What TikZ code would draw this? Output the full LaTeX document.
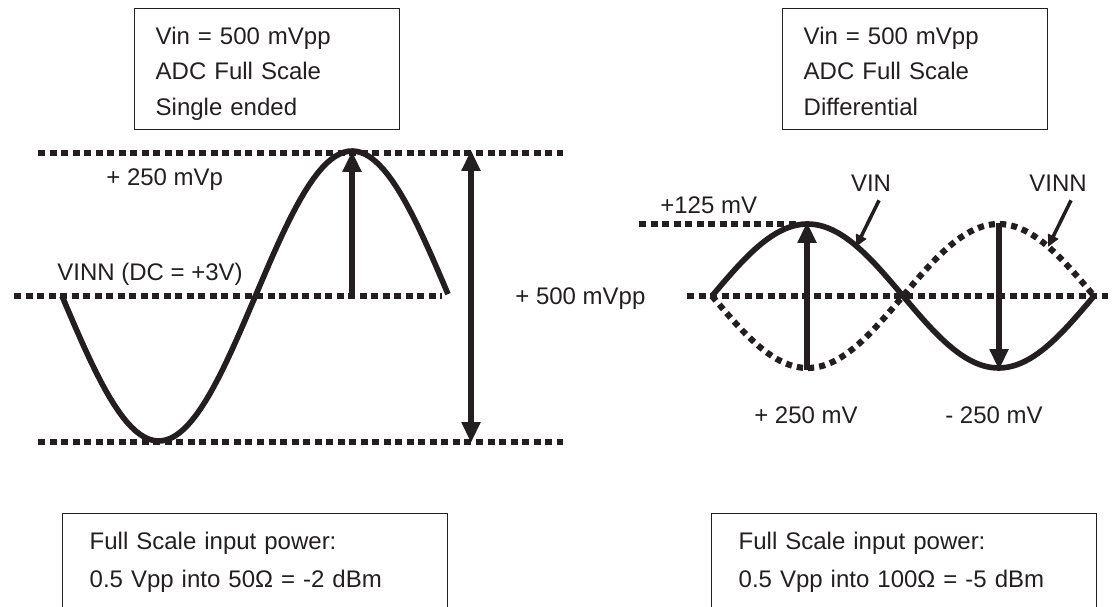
\documentclass[tikz,border=0pt]{standalone}
\usepackage{fontspec}
\setmainfont{Liberation Sans}
\usepackage{tikz}
\usetikzlibrary{
  arrows.meta
}
\definecolor{inkBlack}{HTML}{231F20}
\newcommand{\specfont}{\fontsize{13.66pt}{20.2pt}\selectfont}
\newcommand{\powerfont}{\fontsize{13.66pt}{21.6pt}\selectfont}
\newcommand{\levelfont}{\fontsize{13.66pt}{16pt}\selectfont}
\tikzset{
  infobox/.style={
    rectangle, draw=inkBlack, line width=0.8pt,
    anchor=north west, align=left,
    inner xsep=0.42cm, inner ysep=0.368cm,
    text height=0.34cm, text=inkBlack
  },
  spec box/.style={infobox,
    text width=4.46cm, text depth=1.34cm, font=\specfont},
  power box/.style={infobox,
    inner xsep=0.54cm, text width=6.62cm, text depth=2.4cm, font=\powerfont},
  level label/.style={inner sep=0pt, text=inkBlack, font=\levelfont},
  level line/.style={draw=inkBlack, line width=3.7pt,
    dash pattern=on 4pt off 2.56pt},
  wave/.style={draw=inkBlack, line width=3.2pt},
  wave inv/.style={wave, line width=3.5pt, dash pattern=on 3.5pt off 2.9pt},
  span arrow/.style={draw=inkBlack, line width=3.6pt,
    -{Triangle[length=0.42cm, width=0.36cm]}},
  pointer/.style={draw=inkBlack, line width=2pt,
    -{Triangle[length=0.24cm, width=0.22cm]}},
}
\begin{document}
\begin{tikzpicture}[x=0.02cm, y=-0.02cm]
    \useasboundingbox (0,0) rectangle (1113,607);
    \clip (0,0) rectangle (1113,607);

    % Boxes
    \node[spec box] (singlespec) at (134,8)
      {Vin = 500 mVpp\\ADC Full Scale\\Single ended};
    \node[spec box] (diffspec) at (782,8)
      {Vin = 500 mVpp\\ADC Full Scale\\Differential};
    \node[power box] (singlepower) at (62,513)
      {Full Scale input power:\\0.5 Vpp into 50Ω = -2 dBm};
    \node[power box] (diffpower) at (711,513)
      {Full Scale input power:\\0.5 Vpp into 100Ω = -5 dBm};

    % Levels, single ended
    \draw[level line] (38,153) -- (563,153);
    \draw[level line] (14,296) -- (442,296);
    \draw[level line] (38,442) -- (563,442);
    \node[level label, anchor=base west] (peaklbl) at (106,185.6) {+ 250 mVp};
    \node[level label, anchor=base west] (dclbl) at (57,280.6) {VINN (DC = +3V)};
    \node[level label, anchor=base west] (spanlbl) at (515,304.6) {+ 500 mVpp};

    % Levels, differential
    \draw[level line] (639,224) -- (800,224);
    \draw[level line] (687,296) -- (1108,296);
    \node[level label, anchor=base west] (halflbl) at (660,213.6) {+125 mV};
    \node[level label, anchor=base] (vinlbl) at (871,191.6) {VIN};
    \node[level label, anchor=base] (vinnlbl) at (1058,191.6) {VINN};
    \node[level label, anchor=base] (poslbl) at (806,423.6) {+ 250 mV};
    \node[level label, anchor=base] (neglbl) at (994,423.6) {- 250 mV};

    % Waves
    \draw[wave] plot[domain=62:448, samples=90]
      (\x, {296 + 145*sin((\x-62)/96.7*90)});
    \draw[wave] plot[domain=712:1094, samples=90]
      (\x, {296 - 72*sin((\x-712)/95.5*90)});
    \draw[wave inv] plot[domain=712:1094, samples=90]
      (\x, {296 + 72*sin((\x-712)/95.5*90)});

    % Arrows
    \coordinate (lmid) at (352,297);
    \coordinate (lpeak) at (352,151);
    \coordinate (spantop) at (471,150);
    \coordinate (spanbot) at (471,443);
    \coordinate (vinlow) at (807,370);
    \coordinate (vinpeak) at (807,222);
    \coordinate (vinntop) at (999,223);
    \coordinate (vinnlow) at (999,370);
    \coordinate (vinpt) at (856,247);
    \coordinate (vinnpt) at (1048,247);
    \draw[span arrow] (lmid) -- (lpeak);
    \draw[span arrow, {Triangle[length=0.42cm, width=0.36cm]}-{Triangle[length=0.42cm, width=0.36cm]}]
      (spantop) -- (spanbot);
    \draw[span arrow] (vinlow) -- (vinpeak);
    \draw[span arrow] (vinntop) -- (vinnlow);
    \draw[pointer] ([shift={(8,8.4)}]vinlbl.south) -- (vinpt);
    \draw[pointer] ([shift={(13,8.4)}]vinnlbl.south) -- (vinnpt);
  \end{tikzpicture}
\end{document}
